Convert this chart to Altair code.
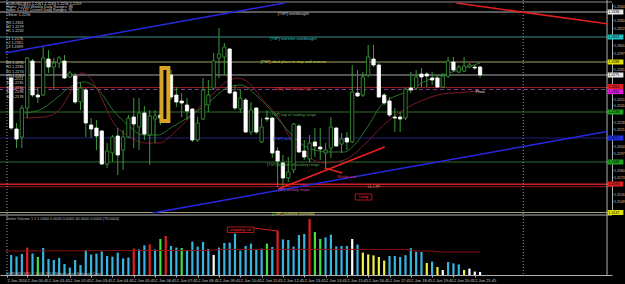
import altair as alt
import pandas as pd

# ---------------- data ----------------
bar_index = list(range(89))
open_ = [1.2272, 1.2221, 1.2213, 1.2242, 1.2289, 1.2255, 1.2255, 1.2291, 1.2283, 1.2287,
         1.2289, 1.2273, 1.2274, 1.2248, 1.2260, 1.2225, 1.2222, 1.2219, 1.2186, 1.2197,
         1.2214, 1.2200, 1.2213, 1.2233, 1.2223, 1.2237, 1.2215, 1.2231, 1.2235, 1.2232,
         1.2275, 1.2255, 1.2249, 1.2245, 1.2241, 1.2210, 1.2231, 1.2245, 1.2262, 1.2292,
         1.2293, 1.2301, 1.2258, 1.2241, 1.2250, 1.2218, 1.2242, 1.2208, 1.2232, 1.2232,
         1.2199, 1.2187, 1.2172, 1.2180, 1.2224, 1.2199, 1.2191, 1.2208, 1.2203, 1.2197,
         1.2202, 1.2222, 1.2206, 1.2212, 1.2208, 1.2257, 1.2255, 1.2275, 1.2291, 1.2285,
         1.2255, 1.2249, 1.2233, 1.2233, 1.2232, 1.2262, 1.2262, 1.2276, 1.2276, 1.2272,
         1.2272, 1.2263, 1.2274, 1.2288, 1.2278, 1.2279, 1.2283, 1.2283, 1.2283]
close = [1.2222, 1.2211, 1.2242, 1.2292, 1.2255, 1.2253, 1.2292, 1.2283, 1.2287, 1.2292,
         1.2272, 1.2277, 1.2248, 1.2262, 1.2227, 1.2221, 1.2214, 1.2186, 1.2199, 1.2213,
         1.2195, 1.2213, 1.2232, 1.2226, 1.2237, 1.2216, 1.2234, 1.2234, 1.2232, 1.2273,
         1.2253, 1.2248, 1.2247, 1.2239, 1.2210, 1.2227, 1.2260, 1.2255, 1.2289, 1.2296,
         1.2303, 1.2257, 1.2242, 1.2252, 1.2218, 1.2240, 1.2218, 1.2223, 1.2231, 1.2197,
         1.2189, 1.2172, 1.2178, 1.2226, 1.2198, 1.2193, 1.2207, 1.2204, 1.2201, 1.2200,
         1.2223, 1.2204, 1.2211, 1.2208, 1.2258, 1.2254, 1.2273, 1.2293, 1.2285, 1.2253,
         1.2247, 1.2235, 1.2232, 1.2231, 1.2261, 1.2260, 1.2273, 1.2273, 1.2274, 1.2270,
         1.2263, 1.2274, 1.2289, 1.2280, 1.2283, 1.2284, 1.2285, 1.2282, 1.2275]
high = [1.2275, 1.2227, 1.2245, 1.2293, 1.2291, 1.2263, 1.2303, 1.2300, 1.2292, 1.2294,
        1.2295, 1.2279, 1.2277, 1.2267, 1.2262, 1.2232, 1.2230, 1.2220, 1.2207, 1.2215,
        1.2222, 1.2220, 1.2235, 1.2252, 1.2252, 1.2244, 1.2240, 1.2240, 1.2240, 1.2280,
        1.2280, 1.2263, 1.2257, 1.2252, 1.2242, 1.2233, 1.2272, 1.2270, 1.2297, 1.2322,
        1.2307, 1.2302, 1.2265, 1.2260, 1.2252, 1.2248, 1.2243, 1.2232, 1.2240, 1.2233,
        1.2203, 1.2195, 1.2193, 1.2227, 1.2226, 1.2210, 1.2215, 1.2222, 1.2222, 1.2207,
        1.2233, 1.2223, 1.2217, 1.2218, 1.2285, 1.2280, 1.2278, 1.2305, 1.2305, 1.2287,
        1.2257, 1.2253, 1.2242, 1.2238, 1.2262, 1.2278, 1.2280, 1.2282, 1.2278, 1.2278,
        1.2273, 1.2277, 1.2293, 1.2293, 1.2285, 1.2293, 1.2287, 1.2285, 1.2284]
low = [1.2220, 1.2202, 1.2202, 1.2232, 1.2253, 1.2247, 1.2254, 1.2277, 1.2260, 1.2282,
       1.2271, 1.2272, 1.2246, 1.2240, 1.2213, 1.2212, 1.2200, 1.2185, 1.2182, 1.2188,
       1.2175, 1.2180, 1.2212, 1.2202, 1.2200, 1.2210, 1.2185, 1.2207, 1.2225, 1.2230,
       1.2250, 1.2243, 1.2233, 1.2230, 1.2208, 1.2208, 1.2230, 1.2238, 1.2260, 1.2272,
       1.2275, 1.2256, 1.2240, 1.2237, 1.2217, 1.2215, 1.2216, 1.2207, 1.2228, 1.2192,
       1.2163, 1.2162, 1.2168, 1.2177, 1.2197, 1.2190, 1.2188, 1.2193, 1.2190, 1.2182,
       1.2192, 1.2203, 1.2197, 1.2200, 1.2207, 1.2253, 1.2253, 1.2273, 1.2283, 1.2252,
       1.2245, 1.2233, 1.2218, 1.2218, 1.2230, 1.2257, 1.2260, 1.2263, 1.2263, 1.2265,
       1.2262, 1.2262, 1.2272, 1.2278, 1.2277, 1.2278, 1.2282, 1.2280, 1.2272]

volume = [1000, 920, 1050, 1370, 1070, 900, 1350, 800, 750, 850,
          550, 370, 750, 500, 1250, 1020, 1070, 1180, 950, 920,
          1120, 830, 870, 1320, 1280, 1480, 1530, 1280, 1800, 1950,
          1450, 1370, 1350, 1220, 1670, 1420, 1650, 1300, 1000, 1370,
          1600, 1620, 2070, 1220, 1450, 1570, 1280, 1320, 1570, 1400,
          2220, 1780, 1750, 1420, 2000, 2050, 2800, 2150, 1800, 1880,
          2020, 1430, 1450, 1450, 1800, 1520, 1120, 1030, 980, 900,
          720, 950, 950, 900, 990, 1340, 1170, 1150, 600, 670,
          400, 250, 650, 580, 530, 250, 320, 170, 150]
vol_kind = ["sky", "sky", "sky", "red", "sky", "green", "sky", "sky", "sky", "sky",
            "sky", "sky", "sky", "sky", "sky", "sky", "sky", "sky", "sky", "sky",
            "sky", "sky", "sky", "red", "sky", "sky", "red", "sky", "green", "red",
            "sky", "sky", "green", "sky", "sky", "sky", "sky", "sky", "white", "sky",
            "sky", "sky", "sky", "sky", "sky", "sky", "sky", "sky", "green", "sky",
            "red", "sky", "sky", "sky", "sky", "sky", "red", "green", "green", "sky",
            "sky", "sky", "sky", "sky", "white", "sky", "yellow", "yellow", "yellow", "yellow",
            "yellow", "sky", "sky", "sky", "sky", "sky", "sky", "sky", "yellow", "sky",
            "yellow", "white", "sky", "sky", "sky", "yellow", "white", "white", "white"]
vol_kinds = ["sky", "red", "green", "white", "yellow"]
vol_colors = ["#38b4e0", "#e02020", "#40e040", "#ffffff", "#f0f040"]

avg_i = [-1.16, 36, 40, 74, 76, 79, 81, 88]
avg_v = [1200, 1230, 1280, 1280, 1200, 1200, 1150, 1150]

maroon_i = [2.5, 6.2, 9.0, 11.8, 13.1, 14.5, 16.4, 19.1, 22.3, 25.2, 27.8, 31.1, 34.8, 37.6, 40.4,
            42.6, 45.0, 46.8, 50.5, 52.9, 54.8, 58.8, 62.5, 66.2, 69.9, 73.6, 77.3, 81.0, 85.6, 88.0]
maroon_p = [1.2232, 1.2233, 1.2240, 1.2265, 1.2277, 1.2274, 1.2258, 1.2228, 1.2213, 1.2207, 1.2207,
            1.2220, 1.2240, 1.2255, 1.2268, 1.2272, 1.2265, 1.2253, 1.2230, 1.2207, 1.2197, 1.2187,
            1.2190, 1.2205, 1.2225, 1.2240, 1.2250, 1.2256, 1.2258, 1.2259]
green_i = [2.5, 5.3, 8.1, 10.8, 13.6, 16.4, 19.1, 21.9, 24.7, 27.5, 30.2, 33.9, 37.6, 40.4, 43.1,
           45.9, 48.7, 51.5, 54.2, 57.0, 59.8, 62.5, 64.4, 67.1, 69.5, 74.0, 78.2, 82.8, 88.0]
green_p = [1.2237, 1.2240, 1.2250, 1.2262, 1.2268, 1.2260, 1.2240, 1.2225, 1.2215, 1.2215, 1.2223,
           1.2235, 1.2250, 1.2262, 1.2265, 1.2255, 1.2240, 1.2222, 1.2207, 1.2200, 1.2198, 1.2198,
           1.2205, 1.2225, 1.2245, 1.2258, 1.2270, 1.2278, 1.2287]

# horizontal levels
hline_price = [1.2348, 1.2338, 1.2313, 1.2288, 1.2275, 1.22625, 1.2238, 1.2212, 1.2188,
               1.21657, 1.21633, 1.21375, 1.2135]
hline_color = ["#8c8c8c", "#b4b4b4", "#3c8c8c", "#a0a060", "#a8a8a8", "#902020", "#2e6e2e",
               "#1e1e78", "#2e6e2e", "#d02020", "#a01818", "#a0a070", "#b8b8b8"]
hline_width = [1, 1, 1, 1, 1, 1, 1, 1.2, 1, 1.6, 1, 1, 1]
dash_price = [1.22605]

# trend lines (bar index, price)
trend_x = [-1.163, 83.57, 26.53, 50.16, 58.83]
trend_x2 = [51.3, 111.82, 111.82, 70.09, 62.16]
trend_y = [1.2297, 1.2347, 1.2137, 1.2161, 1.2182]
trend_y2 = [1.2347, 1.23262, 1.22184, 1.2203, 1.2177]
trend_color = ["#2828e0", "#e02020", "#2828e0", "#f02020", "#f02020"]

separators = [-0.79, 96.1]

# right-hand price boxes
box_price = [1.2338, 1.2313, 1.2288, 1.2275, 1.22635, 1.22583, 1.2238, 1.2212, 1.2188, 1.2166, 1.21375]
box_color = ["#e8e8e8", "#20c0c0", "#e0e000", "#e8e8e8", "#e02020", "#e020e0", "#20a020",
             "#2030e0", "#20a020", "#e02020", "#e0e000"]
box_text = ["1.2338", "1.2313", "1.2288", "1.2275", "1.2262", "1.2260", "1.2238", "1.2212",
            "1.2188", "1.2166", "1.2137"]

# in-chart labels
lab_text = ["[TSP] overbought", "[TSP] extreme overbought", "[TSP] ideal place to stop and reverse",
            "[MR] mid range high", "[TSP] top of trading range", "[TSP] mid",
            "[TSP] bottom of trading range", "[S1] weekly major", "[TSP] extreme oversold",
            "Pivot", "Shake out", "LL LTP"]
lab_x = [52.93, 52.93, 52.93, 52.93, 52.93, 50.8, 52.93, 53.1, 52.93, 88.0, 62.9, 68.1]
lab_p = [1.23357, 1.23107, 1.22877, 1.22607, 1.2235, 1.2211, 1.2185, 1.2160, 1.2136, 1.2258,
         1.2173, 1.2163]
lab_color = ["#c8c8c8", "#30c8c8", "#d8d840", "#e03030", "#50a050", "#4060ff", "#50a050",
             "#c050b0", "#d8d840", "#e0e0e0", "#e03060", "#c0a0a0"]

info_text = ["EURUSD,M15  1.2261 1.2263 1.2256 1.2259", "Highs: 1.2350   Weekly Daily Ranges: 88",
             "Lows: 1.2137   Current Daily Ranges: 76", "Ohlcw: 1.2296",
             "H3  1.2301", "H2  1.2279", "H1  1.2232", "L1  1.2176", "L2  1.2161", "L3  1.2099",
             "R3 1.2295", "R2 1.2285", "R1 1.2274", "PP 1.2262", "S1 1.2251", "S2 1.2235",
             "S3 1.2220", "S4 1.2198", "S5 1.2178"]
info_p = [1.23465, 1.23432, 1.23397, 1.23355, 1.23273, 1.23233, 1.2319, 1.23107, 1.23067, 1.23027,
          1.22867, 1.22827, 1.22783, 1.22743, 1.22707, 1.22667, 1.22617, 1.22577, 1.22533]

xtick_vals = [-0.79, 3, 7, 11, 15, 19, 23, 27, 31, 35, 39, 43, 47, 51, 55, 59, 63, 67, 71, 75, 79, 83, 87]
xtick_labels = ["2 Jun 2010", "2 Jun 00:45", "2 Jun 01:45", "2 Jun 02:45", "2 Jun 03:45",
                "2 Jun 04:45", "2 Jun 05:45", "2 Jun 06:45", "2 Jun 07:45", "2 Jun 08:45",
                "2 Jun 09:45", "2 Jun 10:45", "2 Jun 11:45", "2 Jun 12:45", "2 Jun 13:45",
                "2 Jun 14:45", "2 Jun 15:45", "2 Jun 16:45", "2 Jun 17:45", "2 Jun 18:45",
                "2 Jun 19:45", "2 Jun 20:45", "2 Jun 21:45"]
ytick_vals = [1.2344, 1.2330, 1.2322, 1.2305, 1.2297, 1.2281, 1.2251, 1.2245, 1.2228, 1.2221,
              1.2204, 1.2197, 1.2180, 1.2173, 1.2156, 1.2149]

FONT = "Liberation Sans"

# ---------------- scales / axes ----------------
xs = alt.Scale(domain=[-1.163, 111.82], nice=False, zero=False)
ps = alt.Scale(domain=[1.2137, 1.2347], range=[213, 3], nice=False, zero=False)
vs = alt.Scale(domain=[0, 2950], range=[275, 216], nice=False)

lab_expr = ("[" + ",".join("'%s'" % t for t in xtick_labels) + "][indexof(["
            + ",".join(str(v) for v in xtick_vals) + "], datum.value)]")
x_axis = alt.Axis(values=xtick_vals, labelExpr=lab_expr, orient="bottom", title=None, grid=False,
                  labelColor="#c8c8c8", labelFontSize=4, labelFont=FONT, labelAlign="left",
                  labelPadding=1, tickColor="#b0b0b0", tickSize=2, domainColor="#b0b0b0",
                  labelOverlap=False, labelFlush=False, labelBound=False)
y_axis = alt.Axis(values=ytick_vals, format=".4f", orient="right", title=None, grid=False,
                  labelColor="#c8c8c8", labelFontSize=3.5, labelFont=FONT, labelPadding=0.5,
                  tickColor="#b0b0b0", tickSize=1, domainColor="#b0b0b0", labelOverlap=False,
                  labelFlush=False, labelBound=False)


def X(f):
    return alt.X(f, scale=xs, axis=x_axis)


def Y(f):
    return alt.Y(f, scale=ps, axis=y_axis)


def V(f):
    return alt.Y(f, scale=vs, axis=None)


# ---------------- price panel ----------------
candles = pd.DataFrame(dict(i=bar_index, open=open_, high=high, low=low, close=close))
hl = pd.DataFrame(dict(p=hline_price, c=hline_color, w=hline_width))
dl = pd.DataFrame(dict(p=dash_price))
tr = pd.DataFrame(dict(x=trend_x, x2=trend_x2, y=trend_y, y2=trend_y2, c=trend_color))
sep = pd.DataFrame(dict(x=separators))
ma_m = pd.DataFrame(dict(i=maroon_i, p=maroon_p))
ma_g = pd.DataFrame(dict(i=green_i, p=green_p))
lab = pd.DataFrame(dict(t=lab_text, x=lab_x, p=lab_p, c=lab_color))
info = pd.DataFrame(dict(t=info_text, p=info_p, x=[-0.95] * len(info_text)))
boxes = pd.DataFrame(dict(p=box_price, c=box_color, t=box_text,
                          top=[v + 0.00025 for v in box_price], bot=[v - 0.00025 for v in box_price],
                          x=[111.95] * len(box_price), x2=[114.9] * len(box_price),
                          tx=[112.1] * len(box_price)))
gold = pd.DataFrame(dict(x=[28.2], x2=[29.5], y=[1.2282], y2=[1.2229]))
longbox = pd.DataFrame(dict(x=[64.56], x2=[67.7], y=[1.2156], y2=[1.2150], xc=[66.13], yc=[1.2153], t=["Long"]))
frame = pd.DataFrame(dict(x=[111.82]))

layers = []
layers.append(alt.Chart(hl).mark_rule().encode(
    y=Y("p:Q"), color=alt.Color("c:N", scale=None), strokeWidth=alt.StrokeWidth("w:Q", scale=None)))
layers.append(alt.Chart(dl).mark_rule(color="#9030a0", strokeDash=[4, 3], strokeWidth=1).encode(y=Y("p:Q")))
layers.append(alt.Chart(sep).mark_rule(color="#9a9a9a", strokeDash=[1, 2], strokeWidth=1).encode(x=X("x:Q")))
layers.append(alt.Chart(frame).mark_rule(color="#b0b0b0", strokeWidth=1).encode(x=X("x:Q")))
layers.append(alt.Chart(ma_m).mark_line(color="#8a1c30", strokeWidth=0.9, interpolate="monotone").encode(
    x=X("i:Q"), y=Y("p:Q")))
layers.append(alt.Chart(ma_g).mark_line(color="#2e7d2e", strokeWidth=0.9, interpolate="monotone").encode(
    x=X("i:Q"), y=Y("p:Q")))
layers.append(alt.Chart(candles).mark_rule(color="#3a9a3a", strokeWidth=1).encode(
    x=X("i:Q"), y=Y("low:Q"), y2="high:Q"))
layers.append(alt.Chart(candles).mark_bar(size=3.3, strokeWidth=0.8).encode(
    x=X("i:Q"), y=Y("open:Q"), y2="close:Q",
    fill=alt.condition("datum.close > datum.open", alt.value("black"), alt.value("white")),
    stroke=alt.condition("datum.close > datum.open", alt.value("#3a9a3a"), alt.value("white"))))
layers.append(alt.Chart(tr).mark_rule(strokeWidth=1.5).encode(
    x=X("x:Q"), x2="x2:Q", y=Y("y:Q"), y2="y2:Q", color=alt.Color("c:N", scale=None)))
layers.append(alt.Chart(gold).mark_rect(fill="black", stroke="#d8a428", strokeWidth=4).encode(
    x=X("x:Q"), x2="x2:Q", y=Y("y:Q"), y2="y2:Q"))
layers.append(alt.Chart(longbox).mark_rect(fill="black", stroke="#d02020", strokeWidth=0.8).encode(
    x=X("x:Q"), x2="x2:Q", y=Y("y:Q"), y2="y2:Q"))
layers.append(alt.Chart(longbox).mark_text(font=FONT, fontSize=4, color="#ff3030", baseline="middle").encode(
    x=X("xc:Q"), y=Y("yc:Q"), text="t:N"))
layers.append(alt.Chart(lab).mark_text(font=FONT, fontSize=4, baseline="middle", align="center").encode(
    x=X("x:Q"), y=Y("p:Q"), text="t:N", color=alt.Color("c:N", scale=None)))
layers.append(alt.Chart(info).mark_text(font=FONT, fontSize=3.8, baseline="middle", align="left",
                                        color="#d8d8d8").encode(x=X("x:Q"), y=Y("p:Q"), text="t:N"))
layers.append(alt.Chart(boxes).mark_rect().encode(
    x=X("x:Q"), x2="x2:Q", y=Y("top:Q"), y2="bot:Q", color=alt.Color("c:N", scale=None)))
layers.append(alt.Chart(boxes).mark_text(font=FONT, fontSize=3.5, baseline="middle", align="left",
                                         color="black").encode(x=X("tx:Q"), y=Y("p:Q"), text="t:N"))
price_panel = alt.layer(*layers)

# ---------------- volume panel ----------------
vol = pd.DataFrame(dict(i=bar_index, v=volume, k=vol_kind))
avg = pd.DataFrame(dict(i=avg_i, v=avg_v))
vtext = pd.DataFrame(dict(t=["Better Volume 1.1  1.0000 0.0000 0.0000 40.0000 0.0000 (76.0000)",
                             "EURUSD,M15  \u00a9 2001-2010 MetaQuotes Software Corp."],
                          x=[-0.95, -0.95], v=[2800, 70]))
stop_box = pd.DataFrame(dict(x=[40.56], x2=[45.54], y=[2400], y2=[2125], xc=[43.05], yc=[2262],
                             t=["stopping vol"]))
stop_line = pd.DataFrame(dict(x=[45.54], x2=[49.97], y=[2350], y2=[2200]))

vlayers = []
vlayers.append(alt.Chart(vol).mark_bar(size=2.2).encode(
    x=X("i:Q"), y=V("v:Q"),
    color=alt.Color("k:N", scale=alt.Scale(domain=vol_kinds, range=vol_colors), legend=None)))
vlayers.append(alt.Chart(avg).mark_line(color="#8b1010", strokeWidth=1).encode(x=X("i:Q"), y=V("v:Q")))
vlayers.append(alt.Chart(stop_line).mark_rule(color="#e02020", strokeWidth=1).encode(
    x=X("x:Q"), x2="x2:Q", y=V("y:Q"), y2="y2:Q"))
vlayers.append(alt.Chart(stop_box).mark_rect(fill="black", stroke="#d02020", strokeWidth=0.8).encode(
    x=X("x:Q"), x2="x2:Q", y=V("y:Q"), y2="y2:Q"))
vlayers.append(alt.Chart(stop_box).mark_text(font=FONT, fontSize=4, color="#ff3030", baseline="middle").encode(
    x=X("xc:Q"), y=V("yc:Q"), text="t:N"))
vlayers.append(alt.Chart(vtext).mark_text(font=FONT, fontSize=3.8, color="#b8b8b8", baseline="middle",
                                          align="left").encode(x=X("x:Q"), y=V("v:Q"), text="t:N"))
volume_panel = alt.layer(*vlayers)

chart = alt.layer(price_panel, volume_panel).resolve_scale(y="independent").properties(
    width=612, height=275,
    autosize=alt.AutoSizeParams(type="none"),
    padding={"left": 0, "top": 0, "right": 13, "bottom": 9},
    background="black",
).configure_view(stroke=None)

chart.save("out.html", embed_options={"renderer": "svg", "actions": False})
